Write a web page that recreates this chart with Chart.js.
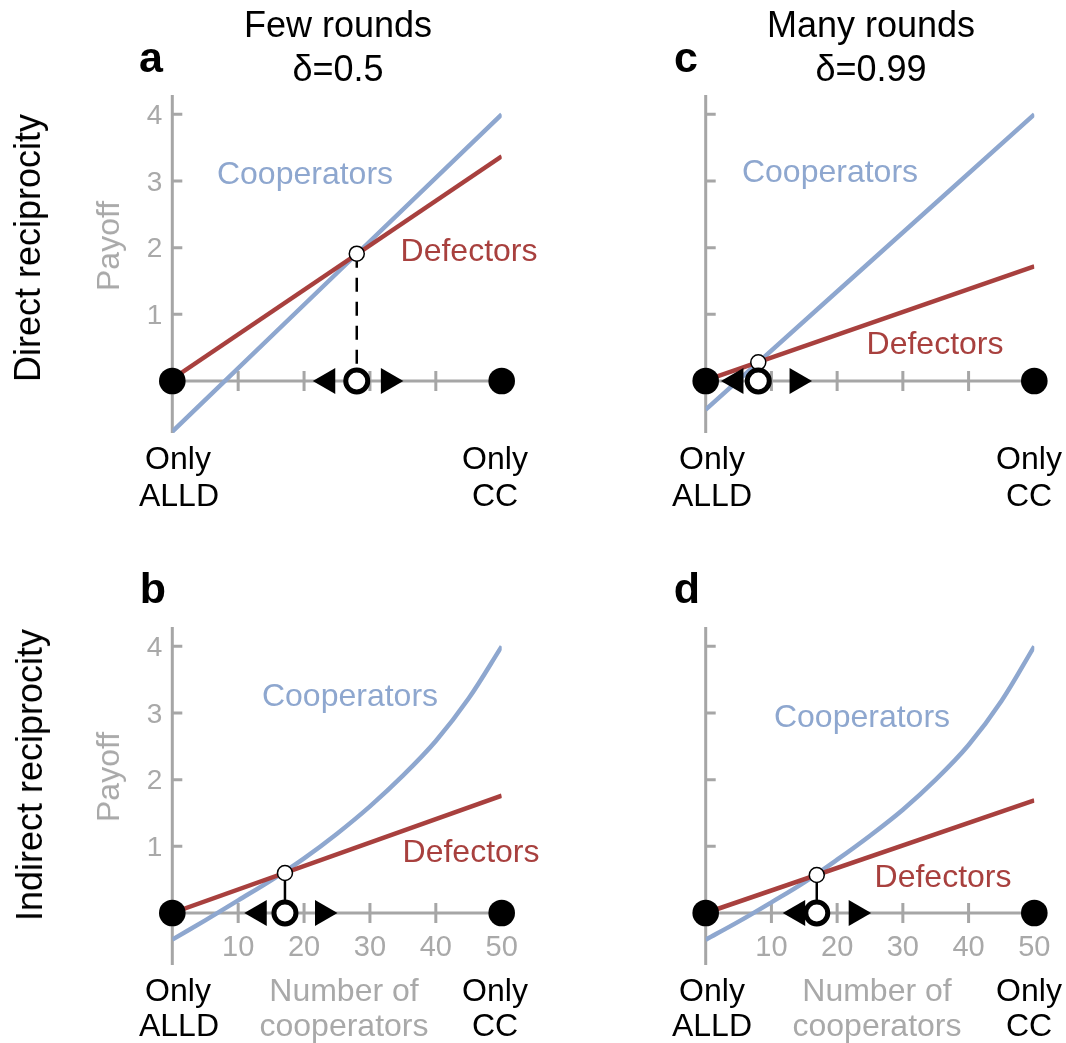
<!DOCTYPE html>
<html>
<head>
<meta charset="utf-8">
<script src="https://cdn.jsdelivr.net/npm/chart.js@4.4.0/dist/chart.umd.min.js"></script>
<style>
  body { margin: 0; background: #fff; width: 1066px; height: 1043px; position: relative; overflow: hidden;
         font-family: "Liberation Sans", Arial, sans-serif; }
  .pane { position: absolute; }
  .t { position: absolute; line-height: 1; white-space: nowrap; transform: translate(-50%, -50%); }
  .rot { transform: translate(-50%, -50%) rotate(-90deg); }
  .big { font-size: 36px; }
  .lab { font-size: 32px; }
  .letter { font-size: 43px; font-weight: bold; }
  .gray { color: #a9a9a9; }
  .blue { color: #8ea7cf; }
  .red { color: #a8403e; }
</style>
</head>
<body>

<div class="pane" style="left:0;top:0;width:533px;height:532px"><canvas id="chartA"></canvas></div>
<div class="pane" style="left:533px;top:0;width:533px;height:532px"><canvas id="chartC"></canvas></div>
<div class="pane" style="left:0;top:532px;width:533px;height:511px"><canvas id="chartB"></canvas></div>
<div class="pane" style="left:533px;top:532px;width:533px;height:511px"><canvas id="chartD"></canvas></div>

<!-- titles -->
<div class="t big" style="left:338px;top:25px">Few rounds</div>
<div class="t big" style="left:338px;top:69px">δ=0.5</div>
<div class="t big" style="left:871px;top:25px">Many rounds</div>
<div class="t big" style="left:871px;top:69px">δ=0.99</div>
<div class="t letter" style="left:151px;top:57px">a</div>
<div class="t letter" style="left:686px;top:57px">c</div>
<div class="t letter" style="left:153px;top:588px">b</div>
<div class="t letter" style="left:687px;top:588px">d</div>
<div class="t big rot" style="left:28px;top:248px">Direct reciprocity</div>
<div class="t big rot" style="left:30px;top:775px">Indirect reciprocity</div>
<div class="t lab rot gray" style="left:108px;top:246px">Payoff</div>
<div class="t lab rot gray" style="left:108px;top:777px">Payoff</div>

<!-- series labels -->
<div class="t lab blue" style="left:305px;top:173px">Cooperators</div>
<div class="t lab red" style="left:469px;top:250px">Defectors</div>
<div class="t lab blue" style="left:830px;top:171px">Cooperators</div>
<div class="t lab red" style="left:935px;top:343px">Defectors</div>
<div class="t lab blue" style="left:350px;top:695px">Cooperators</div>
<div class="t lab red" style="left:471px;top:851px">Defectors</div>
<div class="t lab blue" style="left:862px;top:716px">Cooperators</div>
<div class="t lab red" style="left:943px;top:876px">Defectors</div>

<!-- end labels -->
<div class="t lab" style="left:178px;top:458px">Only</div>
<div class="t lab" style="left:179px;top:495px">ALLD</div>
<div class="t lab" style="left:495px;top:458px">Only</div>
<div class="t lab" style="left:495px;top:495px">CC</div>
<div class="t lab" style="left:712px;top:458px">Only</div>
<div class="t lab" style="left:712px;top:495px">ALLD</div>
<div class="t lab" style="left:1029px;top:458px">Only</div>
<div class="t lab" style="left:1029px;top:495px">CC</div>
<div class="t lab" style="left:178px;top:990px">Only</div>
<div class="t lab" style="left:179px;top:1025px">ALLD</div>
<div class="t lab" style="left:495px;top:990px">Only</div>
<div class="t lab" style="left:495px;top:1025px">CC</div>
<div class="t lab" style="left:712px;top:990px">Only</div>
<div class="t lab" style="left:712px;top:1025px">ALLD</div>
<div class="t lab" style="left:1029px;top:990px">Only</div>
<div class="t lab" style="left:1029px;top:1025px">CC</div>
<div class="t lab gray" style="left:344px;top:990px">Number of</div>
<div class="t lab gray" style="left:344px;top:1025px">cooperators</div>
<div class="t lab gray" style="left:877px;top:990px">Number of</div>
<div class="t lab gray" style="left:877px;top:1025px">cooperators</div>

<script>
// number of cooperators at the two ends
const xEnds = [0, 50];
const xCurve = [0, 5, 10, 15, 20, 25, 30, 35, 40, 45, 50];
const yTicks = [1, 2, 3, 4];
const xTicks = [10, 20, 30, 40, 50];

// a: direct reciprocity, few rounds
const coopA = [-0.76, 4.0];
const defA = [0.03, 3.37];
const eqA = [28, 1.91];
const arrowsA = [23.6, 32.8];

// c: direct reciprocity, many rounds
const coopC = [-0.43, 4.0];
const defC = [0.01, 1.72];
const eqC = [8.0, 0.28];
const arrowsC = [4.6, 13.9];

// b: indirect reciprocity, few rounds
const coopB = [-0.40, -0.11, 0.19, 0.49, 0.82, 1.19, 1.60, 2.06, 2.58, 3.22, 4.00];
const defB = [0.0, 1.76];
const eqB = [17.1, 0.60];
const arrowsB = [13.2, 22.8];

// d: indirect reciprocity, many rounds
const coopD = [-0.40, -0.13, 0.16, 0.46, 0.80, 1.16, 1.55, 2.00, 2.52, 3.18, 4.00];
const defD = [0.0, 1.69];
const eqD = [16.9, 0.57];
const arrowsD = [14.0, 22.9];

const BLUE = '#8ea7cf';
const RED = '#a8403e';
const GRAY = '#a6a6a6';

// axis lines, inward y ticks and crossing x ticks
const axesPlugin = {
  id: 'axes',
  beforeDatasetsDraw(chart, args, opts) {
    const ctx = chart.ctx;
    const x = chart.scales.x, y = chart.scales.y;
    const x0 = x.getPixelForValue(0), x1 = x.getPixelForValue(50);
    const y0 = y.getPixelForValue(0);
    ctx.save();
    ctx.strokeStyle = GRAY;
    ctx.lineWidth = 3;
    ctx.beginPath();
    ctx.moveTo(x0, y.getPixelForValue(y.min));
    ctx.lineTo(x0, y.getPixelForValue(y.max));
    ctx.moveTo(x0, y0);
    ctx.lineTo(x1, y0);
    yTicks.forEach(v => {
      const p = y.getPixelForValue(v);
      ctx.moveTo(x0, p);
      ctx.lineTo(x0 + 10, p);
    });
    xTicks.forEach(v => {
      const p = x.getPixelForValue(v);
      ctx.moveTo(p, y0 - 10);
      ctx.lineTo(p, y0 + 10);
    });
    ctx.stroke();
    ctx.fillStyle = '#a9a9a9';
    if (opts.yLabels) {
      ctx.font = '28px "Liberation Sans", Arial, sans-serif';
      ctx.textAlign = 'right';
      ctx.textBaseline = 'middle';
      yTicks.forEach(v => ctx.fillText(String(v), x0 - 10, y.getPixelForValue(v) + 2));
    }
    if (opts.xLabels) {
      ctx.font = '29px "Liberation Sans", Arial, sans-serif';
      ctx.textAlign = 'center';
      ctx.textBaseline = 'middle';
      xTicks.forEach(v => ctx.fillText(String(v), x.getPixelForValue(v), y0 + 35));
    }
    ctx.restore();
  }
};

function xy(xs, ys) {
  return xs.map((v, i) => ({ x: v, y: ys[i] }));
}

function makePanel(id, p) {
  const datasets = [
    { // end states
      data: xy(xEnds, [0, 0]), showLine: false, pointRadius: 13.3,
      backgroundColor: '#000', borderColor: '#000', borderWidth: 0, clip: false
    },
    { // unstable point on the axis
      data: [{ x: p.eq[0], y: 0 }], showLine: false, pointRadius: 11, borderWidth: 5,
      backgroundColor: '#fff', borderColor: '#000', clip: false
    },
    { // crossing of the two payoffs
      data: [{ x: p.eq[0], y: p.eq[1] }], showLine: false, pointRadius: 7.5, borderWidth: 1.5,
      backgroundColor: '#fff', borderColor: '#000', clip: false
    },
    {
      data: [{ x: p.arrows[0], y: 0 }], showLine: false, pointStyle: 'triangle', rotation: -90,
      pointRadius: 15, backgroundColor: '#000', borderColor: '#000', borderWidth: 0, clip: false
    },
    {
      data: [{ x: p.arrows[1], y: 0 }], showLine: false, pointStyle: 'triangle', rotation: 90,
      pointRadius: 15, backgroundColor: '#000', borderColor: '#000', borderWidth: 0, clip: false
    },
    { // defectors
      data: xy(xEnds, p.def), borderColor: RED, borderWidth: 4.5, pointRadius: 0, fill: false
    },
    { // cooperators
      data: xy(p.coopX, p.coop), borderColor: BLUE, borderWidth: 4.5, pointRadius: 0, fill: false,
      tension: 0.35
    },
    { // drop line from the crossing to the axis
      data: [{ x: p.eq[0], y: p.eq[1] }, { x: p.eq[0], y: 0 }], borderColor: '#000',
      borderWidth: 2.5, pointRadius: 0, borderDash: p.dashed ? [14, 10] : []
    }
  ];
  new Chart(document.getElementById(id), {
    type: 'line',
    data: { datasets: datasets },
    options: {
      responsive: true,
      maintainAspectRatio: false,
      animation: false,
      events: [],
      layout: { padding: { left: p.left, right: p.right, top: 95, bottom: p.bottom } },
      scales: {
        x: { type: 'linear', min: 0, max: 50, display: false },
        y: { type: 'linear', min: -0.78, max: 4.29, display: false }
      },
      plugins: {
        legend: { display: false },
        tooltip: { enabled: false },
        axes: { yLabels: p.yLabels, xLabels: p.xLabels }
      }
    },
    plugins: [axesPlugin]
  });
}

makePanel('chartA', { coopX: xEnds, coop: coopA, def: defA, eq: eqA, arrows: arrowsA, dashed: true,
  left: 172.3, right: 31.3, bottom: 99, yLabels: true, xLabels: false });
makePanel('chartC', { coopX: xEnds, coop: coopC, def: defC, eq: eqC, arrows: arrowsC, dashed: false,
  left: 172.7, right: 31.7, bottom: 99, yLabels: false, xLabels: false });
makePanel('chartB', { coopX: xCurve, coop: coopB, def: defB, eq: eqB, arrows: arrowsB, dashed: false,
  left: 172.3, right: 31.3, bottom: 78, yLabels: true, xLabels: true });
makePanel('chartD', { coopX: xCurve, coop: coopD, def: defD, eq: eqD, arrows: arrowsD, dashed: false,
  left: 172.7, right: 31.7, bottom: 78, yLabels: false, xLabels: true });
</script>
</body>
</html>
